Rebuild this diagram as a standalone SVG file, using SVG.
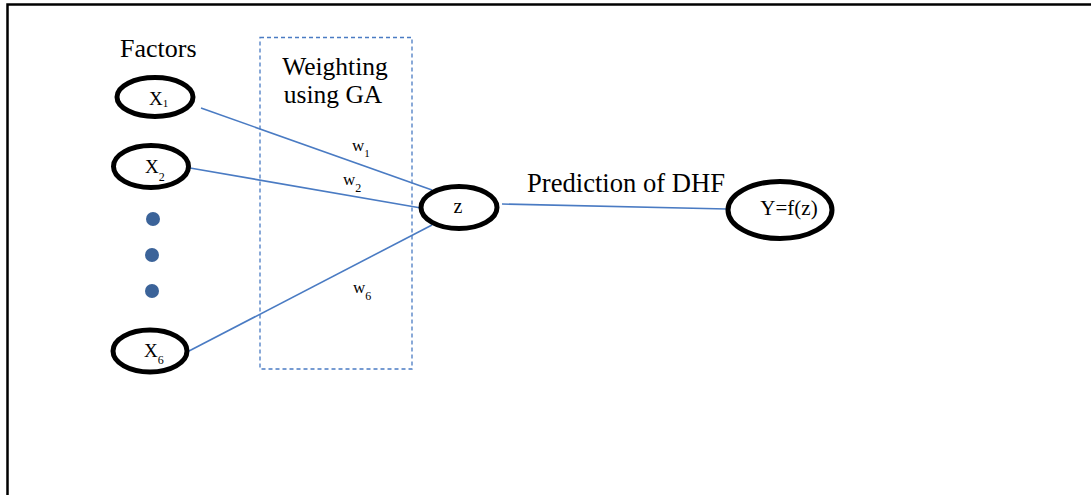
<svg xmlns="http://www.w3.org/2000/svg" width="1091" height="495" viewBox="0 0 1091 495">
  <style>
    .t { font-family: "Liberation Serif", "Times New Roman", serif; fill: #000; }
    .node { fill: #fff; stroke: #000; stroke-width: 5; }
    .conn { stroke: #4a7bc3; stroke-width: 1.6; fill: none; }
    .dot { fill: #3b6399; }
  </style>
  <rect width="1091" height="495" fill="#fff"/>
  <path d="M7.5 495 V4.5 H1091" fill="none" stroke="#000" stroke-width="2.5"/>

  <text class="t" x="120" y="57" font-size="26">Factors</text>

  <g id="ga-box">
    <rect x="260" y="37.5" width="152" height="331.5" fill="none" stroke="#4a7bc3" stroke-width="1.3" stroke-dasharray="4 3"/>
    <text class="t" x="335" y="75" font-size="25.5" text-anchor="middle">Weighting</text>
    <text class="t" x="333" y="103" font-size="25.5" text-anchor="middle">using GA</text>
  </g>

  <g id="connectors">
    <line class="conn" x1="201" y1="108" x2="432" y2="190"/>
    <line class="conn" x1="190" y1="168" x2="421" y2="208"/>
    <line class="conn" x1="189" y1="351" x2="432" y2="225"/>
    <line class="conn" x1="502" y1="204" x2="727" y2="209"/>
  </g>

  <g id="weights">
    <text class="t" x="352" y="151" font-size="17">w<tspan font-size="11" dy="6">1</tspan></text>
    <text class="t" x="343" y="185" font-size="17">w<tspan font-size="12" dy="7">2</tspan></text>
    <text class="t" x="353" y="293" font-size="17">w<tspan font-size="12" dy="7">6</tspan></text>
  </g>

  <g id="x1">
    <ellipse class="node" cx="155" cy="97" rx="38" ry="19.5"/>
    <text class="t" x="149" y="105" font-size="19">X<tspan font-size="11" dy="2">1</tspan></text>
  </g>
  <g id="x2">
    <ellipse class="node" cx="151" cy="166.5" rx="37.5" ry="21"/>
    <text class="t" x="145" y="173" font-size="19">X<tspan font-size="12" dy="8">2</tspan></text>
  </g>
  <g id="dots">
    <circle class="dot" cx="153" cy="219" r="7"/>
    <circle class="dot" cx="152" cy="255" r="7"/>
    <circle class="dot" cx="152" cy="291" r="7"/>
  </g>
  <g id="x6">
    <ellipse class="node" cx="150" cy="351" rx="37" ry="21"/>
    <text class="t" x="144" y="357" font-size="19">X<tspan font-size="12" dy="7">6</tspan></text>
  </g>
  <g id="z">
    <ellipse class="node" cx="459" cy="207.5" rx="38" ry="21"/>
    <text class="t" x="458" y="213" font-size="20" text-anchor="middle">z</text>
  </g>
  <text class="t" x="527" y="192" font-size="26.6">Prediction of DHF</text>
  <g id="y">
    <ellipse class="node" cx="780" cy="210" rx="52" ry="28.5"/>
    <text class="t" x="789" y="215" font-size="21" text-anchor="middle">Y=f(z)</text>
  </g>
</svg>
